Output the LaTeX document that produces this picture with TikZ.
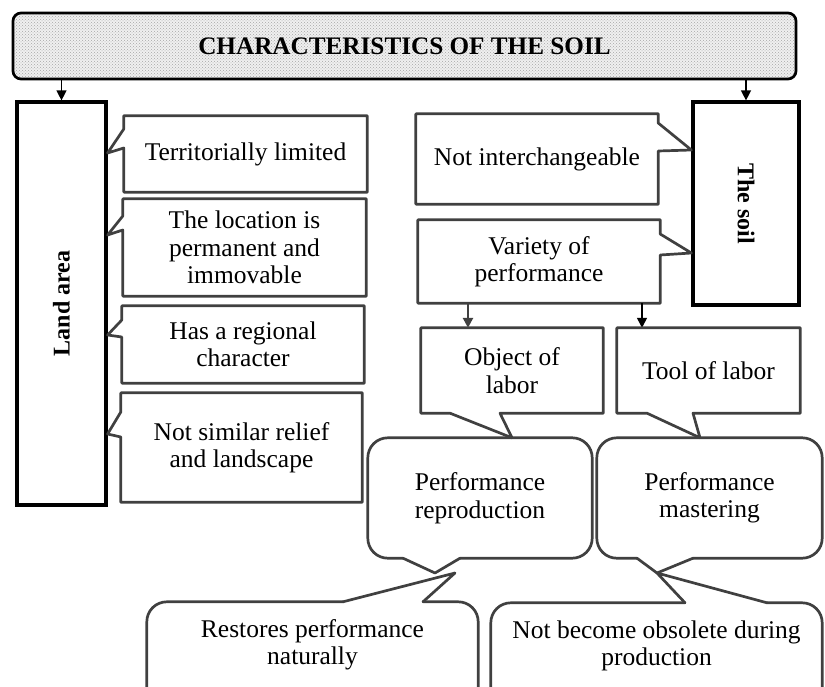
\documentclass[tikz,border=0pt]{standalone}
\usepackage{fontspec}
\setmainfont{Liberation Serif}
\usetikzlibrary{patterns,arrows.meta,positioning}
\definecolor{noteGray}{RGB}{64,64,64}

\begin{document}
\begin{tikzpicture}[x=1pt,y=-1pt,
    note/.style={inner sep=0pt, align=center, font=\fontsize{25.5}{27.5}\selectfont},
    outline/.style={draw=noteGray, line width=2.7pt, line join=round, line cap=round},
    mainbox/.style={draw, line width=3.2pt, inner sep=0pt},
    flow/.style={-{Triangle[width=10pt,length=10pt]}, line width=1.3pt}]
    \useasboundingbox (0,0) rectangle (825,687);
    \clip (0,0) rectangle (825,687);

    % Titre
    \node[draw, line width=2.7pt, rounded corners=8pt, minimum width=783pt, minimum height=66pt,
          preaction={fill=gray!12}, pattern=crosshatch dots, pattern color=gray!70,
          font=\bfseries\fontsize{25.2}{27}\selectfont] (banner) at (404.5,46) {CHARACTERISTICS OF THE SOIL};

    % Les deux blocs principaux
    \node[mainbox, minimum width=89pt, minimum height=403pt] (land) at (61.5,303.5) {};
    \node[rotate=90, font=\bfseries\fontsize{24}{26}\selectfont] at (land.center) {Land area};
    \node[mainbox, minimum width=106pt, minimum height=203pt] (soil) at (746,203.5) {};
    \node[rotate=-90, font=\bfseries\fontsize{24}{26}\selectfont] at (soil.center) {The soil};

    \draw[flow] (banner.south -| land.north) -- (land.north);
    \draw[flow] (banner.south -| soil.north) -- (soil.north);

    % Bulles de gauche
    \node[note, minimum width=243pt, minimum height=76pt] (terr) at (245.5,154) {Territorially limited};
    \draw[outline] (terr.west |- 0,148) -- (terr.south west) -- (terr.south east) -- (terr.north east)
        -- (terr.north west) -- (terr.west |- 0,129) -- (land.east |- 0,153) -- cycle;

    \node[note, minimum width=243pt, minimum height=97pt] (loc) at (244.5,247.5) {The location is\\permanent and\\immovable};
    \draw[outline] (loc.west |- 0,230) -- (loc.south west) -- (loc.south east) -- (loc.north east)
        -- (loc.north west) -- (loc.west |- 0,216) -- (land.east |- 0,235) -- cycle;

    \node[note, minimum width=242pt, minimum height=77pt] (reg) at (243,344.5) {Has a regional\\character};
    \draw[outline] (reg.west |- 0,337) -- (reg.south west) -- (reg.south east) -- (reg.north east)
        -- (reg.north west) -- (reg.west |- 0,320) -- (land.east |- 0,335) -- cycle;

    \node[note, minimum width=241pt, minimum height=109pt] (relief) at (241.5,447.5) {Not similar relief\\and landscape};
    \draw[outline] (relief.west |- 0,437) -- (relief.south west) -- (relief.south east) -- (relief.north east)
        -- (relief.north west) -- (relief.west |- 0,412) -- (land.east |- 0,434) -- cycle;

    % Bulles de droite
    \node[note, minimum width=242pt, minimum height=90pt] (inter) at (537,159) {Not interchangeable};
    \draw[outline] (inter.east |- 0,151) -- (inter.south east) -- (inter.south west) -- (inter.north west)
        -- (inter.north east) -- (inter.east |- 0,123) -- (soil.west |- 0,150) -- cycle;

    \node[note, minimum width=242pt, minimum height=83pt] (var) at (539,261.5) {Variety of\\performance};
    \draw[outline] (var.east |- 0,255) -- (var.south east) -- (var.south west) -- (var.north west)
        -- (var.north east) -- (var.east |- 0,234) -- (soil.west |- 0,253) -- cycle;

    \node[note, minimum width=182pt, minimum height=85pt] (obj) at (512,370.5) {Object of\\labor};
    \node[note, minimum width=183pt, minimum height=85pt] (tool) at (708.5,370.5) {Tool of labor};
    \draw[flow, draw=noteGray, line width=2.5pt] (var.south -| 468,0) -- (obj.north -| 468,0);
    \draw[flow] (var.south -| 642,0) -- (tool.north -| 642,0);

    \node[note, minimum width=224pt, minimum height=120pt] (rep) at (480,498) {Performance\\reproduction};
    \node[note, minimum width=225pt, minimum height=120pt] (mast) at (709.5,498) {Performance\\mastering};

    \draw[outline] (obj.south -| 500,0) -- (obj.south east) -- (obj.north east) -- (obj.north west)
        -- (obj.south west) -- (obj.south -| 450,0) -- (rep.north -| 512,0) -- cycle;
    \draw[outline] (tool.south -| 693,0) -- (tool.south east) -- (tool.north east) -- (tool.north west)
        -- (tool.south west) -- (tool.south -| 647,0) -- (mast.north -| 700,0) -- cycle;

    % Bulles arrondies
    \coordinate (repTip) at (435,573);
    \coordinate (mastTip) at (657,573);
    \coordinate (restTip) at (455,573);

    \draw[outline, rounded corners=20pt] (rep.south -| 403,0) -- (rep.south west) -- (rep.north west)
        -- (rep.north east) -- (rep.south east) -- (rep.south -| 460,0);
    \draw[outline] (rep.south -| 403,0) -- (repTip) -- (rep.south -| 460,0);

    \draw[outline, rounded corners=20pt] (mast.south -| 637,0) -- (mast.south west) -- (mast.north west)
        -- (mast.north east) -- (mast.south east) -- (mast.south -| 693,0);
    \draw[outline] (mast.south -| 637,0) -- (mastTip) -- (mast.south -| 693,0);

    \node[note, minimum width=331pt, minimum height=86pt] (rest) at (312.5,645) {Restores performance\\naturally};
    \draw[outline, rounded corners=20pt] (rest.north -| 343,0) -- (rest.north west) -- (rest.south west);
    \draw[outline, rounded corners=20pt] (rest.north -| 423,0) -- (rest.north east) -- (rest.south east);
    \draw[outline] (rest.north -| 343,0) -- (restTip) -- (rest.north -| 423,0);

    \node[note, minimum width=331pt, minimum height=86pt] (obs) at (656.5,646) {Not become obsolete during\\production};
    \draw[outline, rounded corners=20pt] (obs.north -| 685,0) -- (obs.north west) -- (obs.south west);
    \draw[outline, rounded corners=20pt] (obs.north -| 767,0) -- (obs.north east) -- (obs.south east);
    \draw[outline] (obs.north -| 685,0) -- (mastTip) -- (obs.north -| 767,0);
\end{tikzpicture}
\end{document}
